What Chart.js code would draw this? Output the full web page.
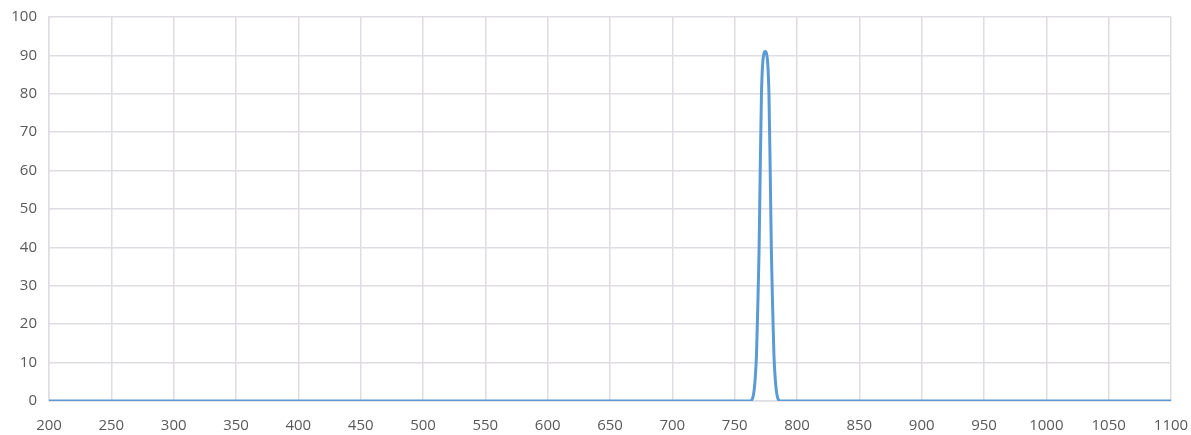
<!DOCTYPE html>
<html>
<head>
<meta charset="utf-8">
<script src="https://cdn.jsdelivr.net/npm/chart.js@4/dist/chart.umd.min.js"></script>
<style>
  html, body { margin: 0; padding: 0; background: #fff; }
  #wrap { width: 1191px; height: 435px; position: relative; }
</style>
</head>
<body>
<div id="wrap"><canvas id="chart"></canvas></div>
<script>
// wavelength (nm) and transmission (%)
var wavelengths = [200, 700, 760, 762.5, 763.5, 764.5, 765.5, 766.5, 767.5, 768.5, 769.5, 770.5, 771.5, 772.5, 773.5, 774.5,
                   775.5, 776.5, 777.5, 778.5, 779.5, 780.5, 781.5, 782.5, 783.5, 784.5, 785.5, 786.5, 790, 850, 1100];
var transmission = [0, 0, 0, 0, 0.2, 0.8, 2.5, 6, 12, 24, 38, 60, 80, 88, 90.5, 91,
                    90.5, 88, 80, 60, 38, 24, 12, 6, 2.5, 0.8, 0.2, 0, 0, 0, 0];

var xTicks = [200, 250, 300, 350, 400, 450, 500, 550, 600, 650, 700, 750, 800, 850, 900, 950, 1000, 1050, 1100];
var yTicks = [0, 10, 20, 30, 40, 50, 60, 70, 80, 90, 100];

var points = wavelengths.map(function(w, i) {
  return { x: w, y: transmission[i] };
});

var gridColor = '#dfdce3';
var labelColor = '#595959';

var ctx = document.getElementById('chart').getContext('2d');
var myChart = new Chart(ctx, {
  type: 'line',
  data: {
    datasets: [{
      data: points,
      borderColor: '#5b9bd5',
      borderWidth: 3,
      pointRadius: 0,
      fill: false,
      cubicInterpolationMode: 'monotone'
    }]
  },
  options: {
    responsive: true,
    maintainAspectRatio: false,
    animation: false,
    layout: { padding: { top: 17, right: 20, left: 0, bottom: 0 } },
    plugins: { legend: { display: false }, tooltip: { enabled: false } },
    scales: {
      x: {
        type: 'linear',
        min: xTicks[0],
        max: xTicks[xTicks.length - 1],
        afterBuildTicks: function(scale) {
          scale.ticks = xTicks.map(function(v) { return { value: v }; });
        },
        afterFit: function(scale) {
          scale.height = 34;
          scale.paddingLeft = 0;
          scale.paddingRight = 0;
        },
        grid: { color: gridColor, lineWidth: 1.5, drawTicks: false },
        border: { color: gridColor, width: 1.5 },
        ticks: {
          padding: 16,
          maxRotation: 0,
          autoSkip: false,
          color: labelColor,
          font: { family: 'Open Sans', size: 15 },
          callback: function(v) { return String(v); }
        }
      },
      y: {
        min: yTicks[0],
        max: yTicks[yTicks.length - 1],
        afterBuildTicks: function(scale) {
          scale.ticks = yTicks.map(function(v) { return { value: v }; });
        },
        afterFit: function(scale) {
          scale.width = 49;
          scale.paddingTop = 0;
          scale.paddingBottom = 0;
        },
        grid: { color: gridColor, lineWidth: 1.5, drawTicks: false },
        border: { color: gridColor, width: 1.5 },
        ticks: {
          padding: 12,
          color: labelColor,
          font: { family: 'Open Sans', size: 15 },
          callback: function(v) { return String(v); }
        }
      }
    }
  }
});
</script>
</body>
</html>
